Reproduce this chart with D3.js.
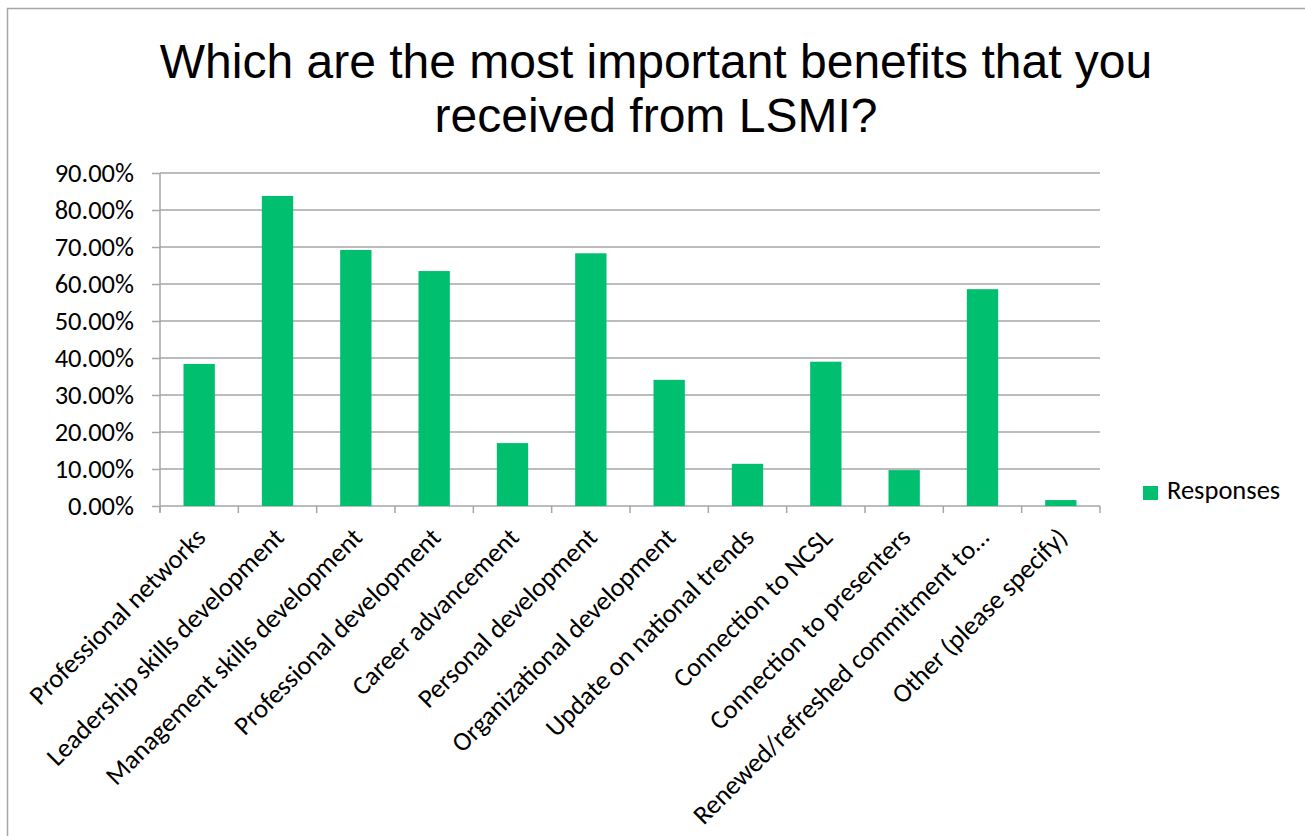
<!DOCTYPE html>
<html>
<head>
<meta charset="utf-8">
<script src="https://cdn.jsdelivr.net/npm/d3@7"></script>
<style>
  body { margin: 0; background: #fff; }
</style>
</head>
<body>
<div id="chart"></div>
<script>
// Data
var categories = [
  "Professional networks",
  "Leadership skills development",
  "Management skills development",
  "Professional development",
  "Career advancement",
  "Personal development",
  "Organizational development",
  "Update on national trends",
  "Connection to NCSL",
  "Connection to presenters",
  "Renewed/refreshed commitment to…",
  "Other (please specify)"
];
var responses = [38.4, 83.8, 69.2, 63.5, 17.0, 68.3, 34.1, 11.4, 39.0, 9.7, 58.6, 1.6];
var yTicks = [0, 10, 20, 30, 40, 50, 60, 70, 80, 90];
var seriesName = "Responses";
var titleLines = ["Which are the most important benefits that you", "received from LSMI?"];

var w = 1305, h = 836;
var margin = {top: 173, right: 205, bottom: 330, left: 160};
var width = 1100 - margin.left;
var height = 506 - margin.top;
var green = "#00bf6f";
var labelFont = "Carlito, Lato, Open Sans, sans-serif";

var svg = d3.select("#chart")
  .append("svg")
    .attr("width", w)
    .attr("height", h);

// Chart frame
svg.append("rect")
  .attr("x", 7.5).attr("y", 8.5)
  .attr("width", w).attr("height", h)
  .attr("fill", "none")
  .attr("stroke", "#a6a6a6")
  .attr("stroke-width", 1.5);

// Title
svg.append("text")
  .attr("text-anchor", "middle")
  .attr("font-family", "Liberation Sans, Arial, sans-serif")
  .attr("font-size", "48px")
  .attr("fill", "#000")
  .selectAll("tspan").data(titleLines).enter().append("tspan")
    .attr("x", 656)
    .attr("y", function(d, i) { return 78 + i * 54; })
    .text(function(d) { return d; });

var g = svg.append("g")
  .attr("transform", "translate(" + margin.left + "," + margin.top + ")");

var xScale = d3.scaleBand().domain(categories).range([0, width]).paddingInner(0).paddingOuter(0);
var yScale = d3.scaleLinear().domain([0, 90]).range([height, 0]);

// Gridlines
g.selectAll(".grid").data(yTicks.slice(1)).enter().append("line")
  .attr("x1", 0).attr("x2", width)
  .attr("y1", function(d) { return yScale(d); })
  .attr("y2", function(d) { return yScale(d); })
  .attr("stroke", "#a6a6a6")
  .attr("stroke-width", 1.5);

// Y axis
var yAxis = d3.axisLeft(yScale)
  .tickValues(yTicks)
  .tickSize(8)
  .tickPadding(18)
  .tickFormat(function(d) { return d.toFixed(2) + "%"; });
var yG = g.append("g").call(yAxis);
yG.select(".domain").attr("stroke", "#a6a6a6").attr("stroke-width", 1.5)
  .attr("d", "M0," + (height + 6) + "V0");
yG.selectAll(".tick line").attr("stroke", "#a6a6a6").attr("stroke-width", 1.5);
yG.selectAll(".tick text")
  .attr("font-family", labelFont)
  .attr("font-size", "26.5px")
  .attr("fill", "#000");

// X axis: ticks at category boundaries
var bounds = d3.range(categories.length + 1);
g.selectAll(".xtick").data(bounds).enter().append("line")
  .attr("x1", function(d) { return d * xScale.step(); })
  .attr("x2", function(d) { return d * xScale.step(); })
  .attr("y1", height).attr("y2", height + 7)
  .attr("stroke", "#a6a6a6")
  .attr("stroke-width", 1.5);
g.append("line")
  .attr("x1", 0).attr("x2", width)
  .attr("y1", height).attr("y2", height)
  .attr("stroke", "#a6a6a6")
  .attr("stroke-width", 1.5);

// Bars
var barW = xScale.bandwidth() / 2.5;
g.selectAll(".bar").data(responses).enter().append("rect")
  .attr("x", function(d, i) { return xScale(categories[i]) + (xScale.bandwidth() - barW) / 2; })
  .attr("y", function(d) { return yScale(d); })
  .attr("width", barW)
  .attr("height", function(d) { return height - yScale(d); })
  .attr("fill", green);

// X labels, rotated
g.selectAll(".xlabel").data(categories).enter().append("text")
  .attr("transform", function(d) {
    return "translate(" + (xScale(d) + xScale.bandwidth() / 2 + 8) + "," + (height + 33) + ") rotate(-45)";
  })
  .attr("text-anchor", "end")
  .attr("font-family", labelFont)
  .attr("font-size", "26.5px")
  .attr("fill", "#000")
  .text(function(d) { return d; });

// Legend
var legend = svg.append("g").attr("transform", "translate(1143,486)");
legend.append("rect")
  .attr("width", 15).attr("height", 14)
  .attr("fill", green);
legend.append("text")
  .attr("x", 24).attr("y", 13)
  .attr("font-family", labelFont)
  .attr("font-size", "26.5px")
  .attr("fill", "#000")
  .text(seriesName);
</script>
</body>
</html>
